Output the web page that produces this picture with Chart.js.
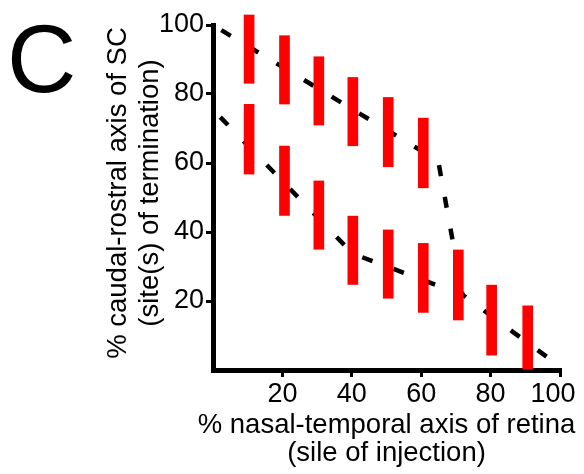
<!DOCTYPE html>
<html><head><meta charset="utf-8">
<script src="https://cdn.jsdelivr.net/npm/chart.js@4"></script>
<style>html,body{margin:0;padding:0;background:#fff;} canvas{display:block;}</style>
</head><body>
<canvas id="c" width="584" height="474"></canvas>
<script>
const panelText = 'C';
const xTitle = ['% nasal-temporal axis of retina', '(sile of injection)'];
const yTitle = ['% caudal-rostral axis of SC', '(site(s) of termination)'];
const xTicks = [20, 40, 60, 80, 100];
const yTicks = [20, 40, 60, 80, 100];

// injection sites (x) and termination ranges (y) for the red range bars
const upperX    = [10.4, 20.6, 30.5, 40.3, 50.5, 60.6];
const upperLow  = [83.1, 77.1, 71.0, 65.0, 58.9, 52.8];
const upperHigh = [102.9, 96.9, 90.8, 84.8, 79.0, 73.0];
const lowerX    = [10.4, 20.6, 30.5, 40.3, 50.5, 60.6, 70.7, 80.3, 90.7];
const lowerLow  = [56.8, 44.8, 35.0, 24.8, 20.8, 16.7, 14.5, 4.3, 0.2];
const lowerHigh = [77.0, 64.9, 54.8, 44.6, 40.6, 36.7, 34.8, 24.6, 18.6];

// dashed trend lines
const upperTrendX = [2.4, 64.9, 71.9];
const upperTrendY = [98.5, 60.6, 21.8];
const lowerTrendX = [2.1, 40.3, 71.9, 96.2];
const lowerTrendY = [73.3, 33.7, 21.8, 3.8];

const FONT = '"Liberation Sans", Arial, Helvetica, sans-serif';

const panelLabel = {
  id: 'panelLabel',
  beforeDraw(chart) {
    const sx = chart.scales.x;
    if (sx && !sx._patched) {
      // let the long x-axis title run wider than the plot area (no squeezing)
      const origTitle = sx.drawTitle;
      sx.drawTitle = function () {
        const l = this.left, r = this.right;
        this.left = l - 40; this.right = r + 40;
        origTitle.call(this);
        this.left = l; this.right = r;
      };
      // the last tick label sits slightly inside the axis end, as in the figure
      const origItems = sx._computeLabelItems;
      sx._computeLabelItems = function (ca) {
        const items = origItems.call(this, ca);
        const last = items[items.length - 1];
        if (last && String(last.label) === '100') {
          const t = last.options.translation;
          last.options.translation = [t[0] - 7, t[1]];
        }
        return items;
      };
      sx._labelItems = null;
      sx._patched = true;
    }
    const sy = chart.scales.y;
    if (sy && !sy._patched) {
      const origTitle = sy.drawTitle;
      sy.drawTitle = function () {
        const t = this.top, b = this.bottom;
        this.top = t - 4.5; this.bottom = b - 4.5;
        origTitle.call(this);
        this.top = t; this.bottom = b;
      };
      sy._patched = true;
    }
  },
  afterDraw(chart) {
    const ctx = chart.ctx;
    ctx.save();
    ctx.fillStyle = '#000';
    ctx.font = '96px ' + FONT;
    ctx.textAlign = 'left';
    ctx.textBaseline = 'alphabetic';
    ctx.fillText(panelText, 7, 92);
    ctx.restore();
  }
};

const lineStyle = {
  type: 'line', borderColor: '#000', borderWidth: 4.5,
  borderCapStyle: 'butt', pointRadius: 0, tension: 0, fill: false, order: 1, clip: false
};
const barStyle = {
  type: 'bar', backgroundColor: '#ff0000', borderWidth: 0, barThickness: 10,
  grouped: false, order: 0, clip: false
};

const tickGrid = {
  display: true, drawOnChartArea: false, drawTicks: true, tickLength: 7,
  tickWidth: 3, tickColor: '#000', lineWidth: 3, color: '#000', offset: false
};

new Chart(document.getElementById('c'), {
  type: 'bar',
  data: {
    datasets: [
      Object.assign({}, barStyle, { data: upperX.map((x, i) => ({ x, y: [upperLow[i], upperHigh[i]] })) }),
      Object.assign({}, barStyle, { data: lowerX.map((x, i) => ({ x, y: [lowerLow[i], lowerHigh[i]] })) }),
      Object.assign({}, lineStyle, { borderDash: [11, 21.2], data: upperTrendX.map((x, i) => ({ x, y: upperTrendY[i] })) }),
      Object.assign({}, lineStyle, { borderDash: [11, 22.4], data: lowerTrendX.map((x, i) => ({ x, y: lowerTrendY[i] })) })
    ]
  },
  options: {
    responsive: false,
    animation: false,
    devicePixelRatio: 1,
    layout: { padding: { left: 0, top: 25, right: 24, bottom: 0 } },
    plugins: { legend: { display: false }, tooltip: { enabled: false } },
    scales: {
      x: {
        type: 'linear', min: 0, max: 100, offset: false,
        afterBuildTicks: s => { s.ticks = xTicks.map(v => ({ value: v })); },
        afterFit: s => { s.height = 104; },
        grid: tickGrid,
        border: { display: true, color: '#000', width: 5 },
        ticks: { font: { family: FONT, size: 27, lineHeight: 1.2 }, color: '#000', padding: 1, maxRotation: 0, autoSkip: false },
        title: { display: true, text: xTitle, color: '#000',
          font: { family: FONT, size: 27.5, lineHeight: 1.03 }, padding: { top: 0, bottom: 6 } }
      },
      y: {
        type: 'linear', min: 0, max: 100,
        afterBuildTicks: s => { s.ticks = yTicks.map(v => ({ value: v })); },
        afterFit: s => { s.width = 213; },
        grid: tickGrid,
        border: { display: true, color: '#000', width: 5 },
        ticks: { font: { family: FONT, size: 27, lineHeight: 1.2 }, color: '#000', padding: 2 },
        title: { display: true, text: yTitle, color: '#000',
          font: { family: FONT, size: 27.5, lineHeight: 1.153 }, padding: { top: 103, bottom: 0 } }
      }
    }
  },
  plugins: [panelLabel]
});
</script>
</body></html>
